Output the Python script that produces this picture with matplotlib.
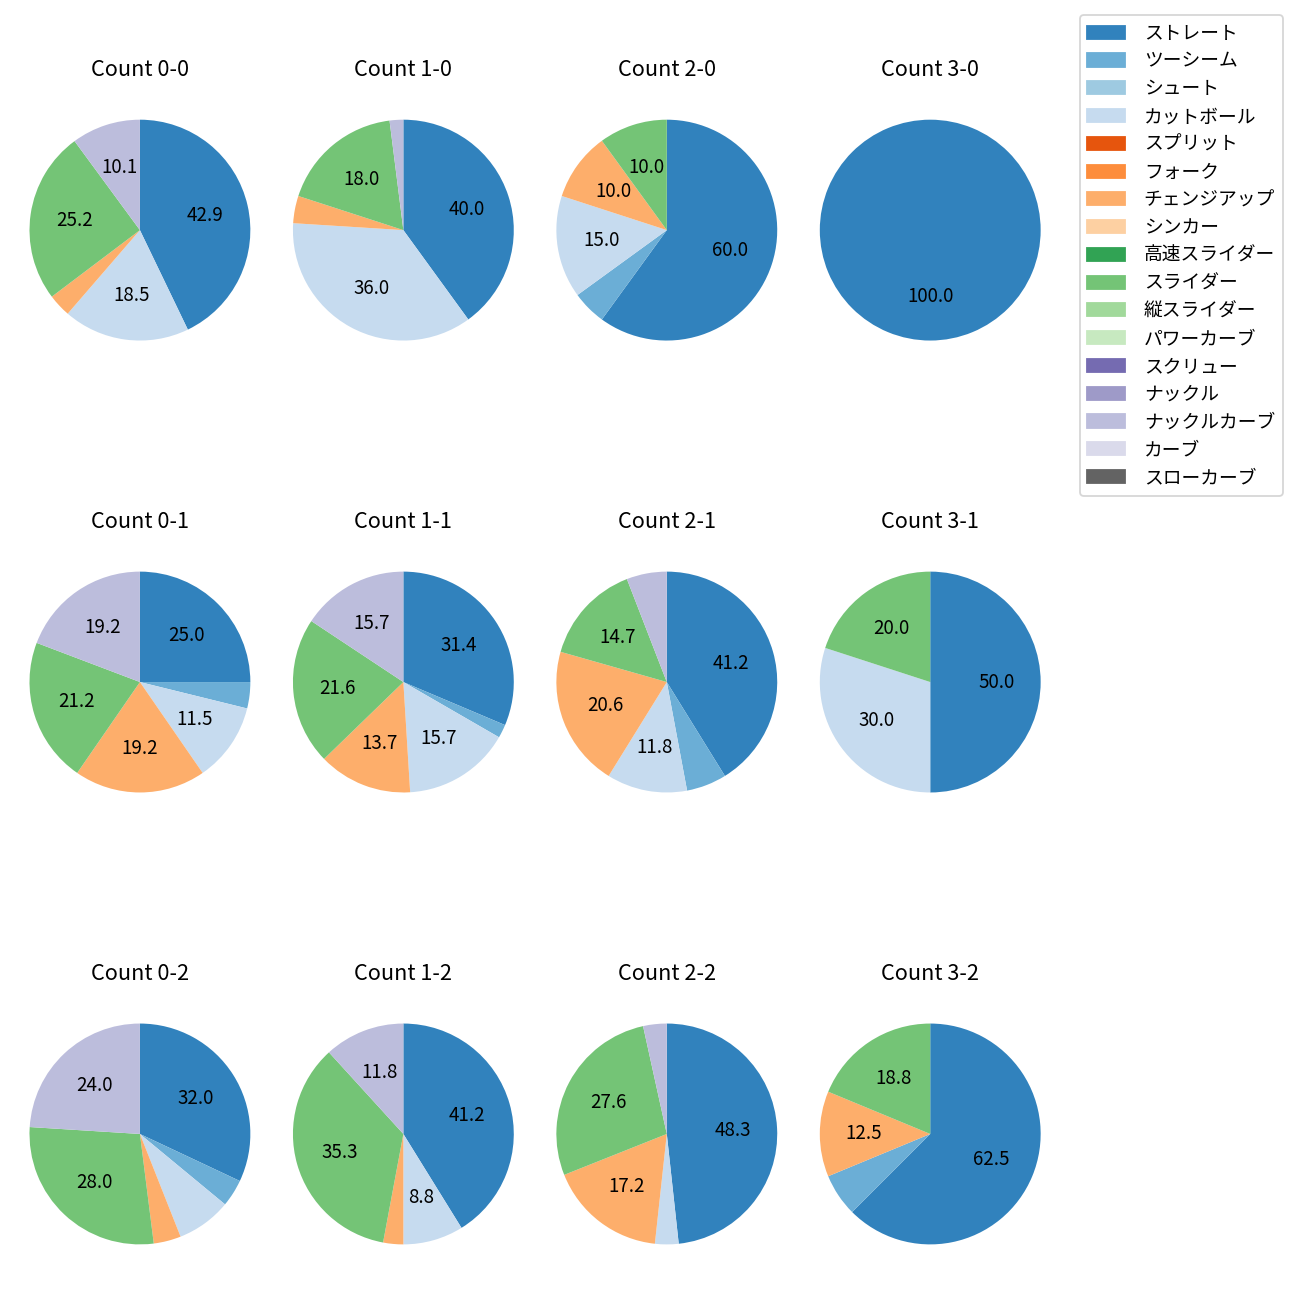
import numpy as np
import matplotlib
matplotlib.use('Agg')
import matplotlib.pyplot as plt
import matplotlib.patches as mpatches

plt.rcParams['font.family'] = ['Noto Sans CJK JP', 'DejaVu Sans']

pitch_types = ['ストレート', 'ツーシーム', 'シュート', 'カットボール', 'スプリット',
               'フォーク', 'チェンジアップ', 'シンカー', '高速スライダー', 'スライダー',
               '縦スライダー', 'パワーカーブ', 'スクリュー', 'ナックル', 'ナックルカーブ',
               'カーブ', 'スローカーブ']

count_labels = ['0-0', '1-0', '2-0', '3-0',
                '0-1', '1-1', '2-1', '3-1',
                '0-2', '1-2', '2-2', '3-2']

# pitches thrown per count (same order as count_labels)
straight      = [51, 20, 12, 1, 13, 16, 14, 5, 8, 14, 14, 10]
two_seam      = [0, 0, 1, 0, 2, 1, 2, 0, 1, 0, 0, 1]
cutter        = [22, 18, 3, 0, 6, 8, 4, 3, 2, 3, 1, 0]
changeup      = [4, 2, 2, 0, 10, 7, 7, 0, 1, 1, 5, 2]
slider        = [30, 9, 2, 0, 11, 11, 5, 2, 7, 12, 8, 3]
knuckle_curve = [12, 1, 0, 0, 10, 8, 2, 0, 6, 4, 1, 0]

zeros = [0] * 12
table = {
    'ストレート': straight,
    'ツーシーム': two_seam,
    'カットボール': cutter,
    'チェンジアップ': changeup,
    'スライダー': slider,
    'ナックルカーブ': knuckle_curve,
}

cmap = plt.get_cmap('tab20c')
colors = {p: cmap(k) for k, p in enumerate(pitch_types)}


def fmt(pct):
    return '%.1f' % pct if pct > 8.5 else ''


fig, axes = plt.subplots(3, 4, figsize=(10, 10), dpi=130)
fig.subplots_adjust(left=0.0142, right=0.809, top=0.933, bottom=0.0177,
                    wspace=0.0844, hspace=0.58)

for k, cnt in enumerate(count_labels):
    ax = axes[k // 4][k % 4]
    vals = []
    cols = []
    for p in pitch_types:
        v = table.get(p, zeros)[k]
        if v > 0:
            vals.append(v)
            cols.append(colors[p])
    ax.pie(vals, colors=cols, startangle=90, counterclock=False, autopct=fmt,
           textprops={'fontsize': 10.4})
    ax.axis('equal')
    ax.set_title('Count ' + cnt)

handles = [mpatches.Patch(color=colors[p], label=p) for p in pitch_types]
fig.legend(handles=handles, loc='upper right', bbox_to_anchor=(0.9938, 0.9954),
           fontsize=10.4, labelspacing=0.36, handletextpad=1.0)

plt.savefig('out.png')
plt.close()
